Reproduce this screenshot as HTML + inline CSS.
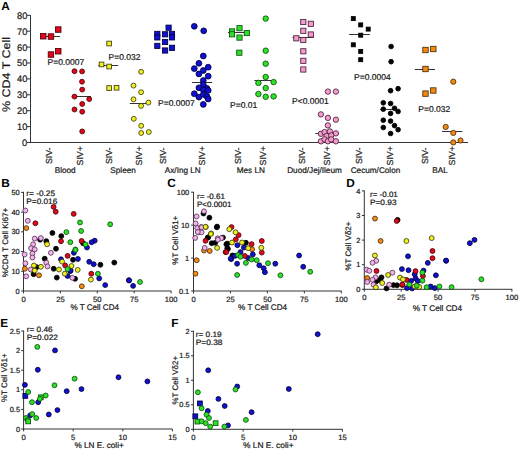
<!DOCTYPE html>
<html><head><meta charset="utf-8"><style>
html,body{margin:0;padding:0;background:#fff;}
body{width:520px;height:453px;overflow:hidden;}
svg{display:block;font-family:"Liberation Sans", sans-serif;text-rendering:geometricPrecision;}
text{stroke:#2a2a2a;stroke-width:0.22px;}
text[font-weight="bold"]{stroke:none;}
</style></head><body>
<svg width="520" height="453" viewBox="0 0 520 453">
<rect width="520" height="453" fill="#fff"/>
<text x="1.2" y="9.7" font-size="11.8" text-anchor="start" font-weight="bold" fill="#000" >A</text>
<line x1="30.5" y1="15" x2="30.5" y2="143" stroke="#333" stroke-width="1"/>
<line x1="30" y1="142.5" x2="468" y2="142.5" stroke="#333" stroke-width="1"/>
<line x1="27" y1="142.5" x2="30.5" y2="142.5" stroke="#333" stroke-width="1"/>
<text x="27.3" y="145.95" font-size="9.5" text-anchor="end" font-weight="normal" fill="#111" textLength="5.2" lengthAdjust="spacingAndGlyphs">0</text>
<line x1="27" y1="126.6" x2="30.5" y2="126.6" stroke="#333" stroke-width="1"/>
<text x="27.3" y="130.04999999999998" font-size="9.5" text-anchor="end" font-weight="normal" fill="#111" textLength="10.3" lengthAdjust="spacingAndGlyphs">10</text>
<line x1="27" y1="110.7" x2="30.5" y2="110.7" stroke="#333" stroke-width="1"/>
<text x="27.3" y="114.15" font-size="9.5" text-anchor="end" font-weight="normal" fill="#111" textLength="10.3" lengthAdjust="spacingAndGlyphs">20</text>
<line x1="27" y1="94.8" x2="30.5" y2="94.8" stroke="#333" stroke-width="1"/>
<text x="27.3" y="98.25" font-size="9.5" text-anchor="end" font-weight="normal" fill="#111" textLength="10.3" lengthAdjust="spacingAndGlyphs">30</text>
<line x1="27" y1="78.9" x2="30.5" y2="78.9" stroke="#333" stroke-width="1"/>
<text x="27.3" y="82.35000000000001" font-size="9.5" text-anchor="end" font-weight="normal" fill="#111" textLength="10.3" lengthAdjust="spacingAndGlyphs">40</text>
<line x1="27" y1="63.0" x2="30.5" y2="63.0" stroke="#333" stroke-width="1"/>
<text x="27.3" y="66.45" font-size="9.5" text-anchor="end" font-weight="normal" fill="#111" textLength="10.3" lengthAdjust="spacingAndGlyphs">50</text>
<line x1="27" y1="47.099999999999994" x2="30.5" y2="47.099999999999994" stroke="#333" stroke-width="1"/>
<text x="27.3" y="50.55" font-size="9.5" text-anchor="end" font-weight="normal" fill="#111" textLength="10.3" lengthAdjust="spacingAndGlyphs">60</text>
<line x1="27" y1="31.200000000000003" x2="30.5" y2="31.200000000000003" stroke="#333" stroke-width="1"/>
<text x="27.3" y="34.650000000000006" font-size="9.5" text-anchor="end" font-weight="normal" fill="#111" textLength="10.3" lengthAdjust="spacingAndGlyphs">70</text>
<line x1="27" y1="15.299999999999997" x2="30.5" y2="15.299999999999997" stroke="#333" stroke-width="1"/>
<text x="27.3" y="18.749999999999996" font-size="9.5" text-anchor="end" font-weight="normal" fill="#111" textLength="10.3" lengthAdjust="spacingAndGlyphs">80</text>
<text transform="translate(9.5,74.5) rotate(-90)" font-size="11" text-anchor="middle" fill="#111" textLength="75" lengthAdjust="spacingAndGlyphs">% CD4 T Cell</text>
<line x1="40" y1="36.5" x2="60" y2="36.5" stroke="#333" stroke-width="1"/>
<line x1="71.7" y1="96.5" x2="91" y2="96.5" stroke="#333" stroke-width="1"/>
<line x1="98.3" y1="65.5" x2="118.2" y2="65.5" stroke="#333" stroke-width="1"/>
<line x1="129.8" y1="103.5" x2="146.4" y2="103.5" stroke="#333" stroke-width="1"/>
<line x1="191.9" y1="82.5" x2="212.2" y2="82.5" stroke="#333" stroke-width="1"/>
<line x1="228" y1="32.5" x2="248" y2="32.5" stroke="#333" stroke-width="1"/>
<line x1="254.4" y1="80.5" x2="273.6" y2="80.5" stroke="#333" stroke-width="1"/>
<line x1="292.5" y1="37.5" x2="313.8" y2="37.5" stroke="#333" stroke-width="1"/>
<line x1="315.3" y1="133.5" x2="339" y2="133.5" stroke="#333" stroke-width="1"/>
<line x1="349.1" y1="34.5" x2="369.9" y2="34.5" stroke="#333" stroke-width="1"/>
<line x1="380.1" y1="109.5" x2="393" y2="109.5" stroke="#333" stroke-width="1"/>
<line x1="414.8" y1="69.5" x2="435" y2="69.5" stroke="#333" stroke-width="1"/>
<line x1="442.1" y1="131.5" x2="462.4" y2="131.5" stroke="#333" stroke-width="1"/>
<rect x="40.5" y="33.5" width="5.5" height="5.5" fill="#e0081a" stroke="#4a0006" stroke-width="0.85"/>
<rect x="48.2" y="33.8" width="5.5" height="5.5" fill="#e0081a" stroke="#4a0006" stroke-width="0.85"/>
<rect x="55.5" y="26.8" width="5.5" height="5.5" fill="#e0081a" stroke="#4a0006" stroke-width="0.85"/>
<rect x="48.2" y="51.8" width="5.5" height="5.5" fill="#e0081a" stroke="#4a0006" stroke-width="0.85"/>
<rect x="55.5" y="48.5" width="5.5" height="5.5" fill="#e0081a" stroke="#4a0006" stroke-width="0.85"/>
<circle cx="74.5" cy="71.2" r="2.45" fill="#e0081a" stroke="#4a0006" stroke-width="0.85"/>
<circle cx="82.1" cy="71.4" r="2.45" fill="#e0081a" stroke="#4a0006" stroke-width="0.85"/>
<circle cx="82.0" cy="81.7" r="2.45" fill="#e0081a" stroke="#4a0006" stroke-width="0.85"/>
<circle cx="82.2" cy="89.6" r="2.45" fill="#e0081a" stroke="#4a0006" stroke-width="0.85"/>
<circle cx="74.5" cy="96.6" r="2.45" fill="#e0081a" stroke="#4a0006" stroke-width="0.85"/>
<circle cx="89.2" cy="99.1" r="2.45" fill="#e0081a" stroke="#4a0006" stroke-width="0.85"/>
<circle cx="82.2" cy="104.0" r="2.45" fill="#e0081a" stroke="#4a0006" stroke-width="0.85"/>
<circle cx="74.5" cy="109.5" r="2.45" fill="#e0081a" stroke="#4a0006" stroke-width="0.85"/>
<circle cx="82.2" cy="111.7" r="2.45" fill="#e0081a" stroke="#4a0006" stroke-width="0.85"/>
<circle cx="82.2" cy="131.4" r="2.45" fill="#e0081a" stroke="#4a0006" stroke-width="0.85"/>
<rect x="106.8" y="41.2" width="4.7" height="4.7" fill="#eef024" stroke="#3c3c08" stroke-width="0.85"/>
<rect x="99.2" y="62.1" width="4.7" height="4.7" fill="#eef024" stroke="#3c3c08" stroke-width="0.85"/>
<rect x="106.8" y="64.2" width="4.7" height="4.7" fill="#eef024" stroke="#3c3c08" stroke-width="0.85"/>
<rect x="106.8" y="85.7" width="4.7" height="4.7" fill="#eef024" stroke="#3c3c08" stroke-width="0.85"/>
<rect x="114.2" y="85.4" width="4.7" height="4.7" fill="#eef024" stroke="#3c3c08" stroke-width="0.85"/>
<circle cx="141.1" cy="71.8" r="2.45" fill="#eef024" stroke="#3c3c08" stroke-width="0.85"/>
<circle cx="133.5" cy="85.6" r="2.45" fill="#eef024" stroke="#3c3c08" stroke-width="0.85"/>
<circle cx="141.1" cy="92.2" r="2.45" fill="#eef024" stroke="#3c3c08" stroke-width="0.85"/>
<circle cx="133.5" cy="99.3" r="2.45" fill="#eef024" stroke="#3c3c08" stroke-width="0.85"/>
<circle cx="141.1" cy="105.9" r="2.45" fill="#eef024" stroke="#3c3c08" stroke-width="0.85"/>
<circle cx="148.4" cy="102.6" r="2.45" fill="#eef024" stroke="#3c3c08" stroke-width="0.85"/>
<circle cx="133.8" cy="118.8" r="2.45" fill="#eef024" stroke="#3c3c08" stroke-width="0.85"/>
<circle cx="141.2" cy="125.8" r="2.45" fill="#eef024" stroke="#3c3c08" stroke-width="0.85"/>
<circle cx="141.2" cy="133.0" r="2.45" fill="#eef024" stroke="#3c3c08" stroke-width="0.85"/>
<circle cx="148.8" cy="132.0" r="2.45" fill="#eef024" stroke="#3c3c08" stroke-width="0.85"/>
<rect x="166.0" y="25.1" width="5.2" height="5.2" fill="#1010d0" stroke="#00003c" stroke-width="0.85"/>
<rect x="154.7" y="31.3" width="5.2" height="5.2" fill="#1010d0" stroke="#00003c" stroke-width="0.85"/>
<rect x="154.7" y="34.8" width="5.2" height="5.2" fill="#1010d0" stroke="#00003c" stroke-width="0.85"/>
<rect x="162.5" y="31.7" width="5.2" height="5.2" fill="#1010d0" stroke="#00003c" stroke-width="0.85"/>
<rect x="169.4" y="31.3" width="5.2" height="5.2" fill="#1010d0" stroke="#00003c" stroke-width="0.85"/>
<rect x="169.4" y="34.8" width="5.2" height="5.2" fill="#1010d0" stroke="#00003c" stroke-width="0.85"/>
<rect x="162.5" y="39.4" width="5.2" height="5.2" fill="#1010d0" stroke="#00003c" stroke-width="0.85"/>
<rect x="154.7" y="43.3" width="5.2" height="5.2" fill="#1010d0" stroke="#00003c" stroke-width="0.85"/>
<rect x="169.4" y="45.2" width="5.2" height="5.2" fill="#1010d0" stroke="#00003c" stroke-width="0.85"/>
<rect x="162.5" y="47.9" width="5.2" height="5.2" fill="#1010d0" stroke="#00003c" stroke-width="0.85"/>
<circle cx="194.3" cy="26.3" r="2.9" fill="#1010d0" stroke="#00003c" stroke-width="0.85"/>
<circle cx="203.7" cy="30.8" r="2.9" fill="#1010d0" stroke="#00003c" stroke-width="0.85"/>
<circle cx="203.3" cy="56.0" r="2.9" fill="#1010d0" stroke="#00003c" stroke-width="0.85"/>
<circle cx="198.9" cy="63.3" r="2.9" fill="#1010d0" stroke="#00003c" stroke-width="0.85"/>
<circle cx="194.3" cy="68.6" r="2.9" fill="#1010d0" stroke="#00003c" stroke-width="0.85"/>
<circle cx="208.2" cy="67.2" r="2.9" fill="#1010d0" stroke="#00003c" stroke-width="0.85"/>
<circle cx="203.3" cy="70.5" r="2.9" fill="#1010d0" stroke="#00003c" stroke-width="0.85"/>
<circle cx="198.9" cy="73.9" r="2.9" fill="#1010d0" stroke="#00003c" stroke-width="0.85"/>
<circle cx="208.2" cy="76.2" r="2.9" fill="#1010d0" stroke="#00003c" stroke-width="0.85"/>
<circle cx="203.3" cy="80.5" r="2.9" fill="#1010d0" stroke="#00003c" stroke-width="0.85"/>
<circle cx="203.3" cy="84.7" r="2.9" fill="#1010d0" stroke="#00003c" stroke-width="0.85"/>
<circle cx="198.9" cy="87.8" r="2.9" fill="#1010d0" stroke="#00003c" stroke-width="0.85"/>
<circle cx="206.9" cy="88.4" r="2.9" fill="#1010d0" stroke="#00003c" stroke-width="0.85"/>
<circle cx="203.3" cy="89.8" r="2.9" fill="#1010d0" stroke="#00003c" stroke-width="0.85"/>
<circle cx="208.2" cy="90.4" r="2.9" fill="#1010d0" stroke="#00003c" stroke-width="0.85"/>
<circle cx="194.3" cy="93.7" r="2.9" fill="#1010d0" stroke="#00003c" stroke-width="0.85"/>
<circle cx="198.9" cy="97.1" r="2.9" fill="#1010d0" stroke="#00003c" stroke-width="0.85"/>
<circle cx="203.3" cy="94.4" r="2.9" fill="#1010d0" stroke="#00003c" stroke-width="0.85"/>
<circle cx="206.9" cy="96.4" r="2.9" fill="#1010d0" stroke="#00003c" stroke-width="0.85"/>
<circle cx="208.2" cy="99.0" r="2.9" fill="#1010d0" stroke="#00003c" stroke-width="0.85"/>
<circle cx="203.3" cy="104.4" r="2.9" fill="#1010d0" stroke="#00003c" stroke-width="0.85"/>
<rect x="236.9" y="25.6" width="5.2" height="5.2" fill="#2ee02a" stroke="#0c500c" stroke-width="0.85"/>
<rect x="229.4" y="28.8" width="5.2" height="5.2" fill="#2ee02a" stroke="#0c500c" stroke-width="0.85"/>
<rect x="229.4" y="31.7" width="5.2" height="5.2" fill="#2ee02a" stroke="#0c500c" stroke-width="0.85"/>
<rect x="244.2" y="30.4" width="5.2" height="5.2" fill="#2ee02a" stroke="#0c500c" stroke-width="0.85"/>
<rect x="236.9" y="35.0" width="5.2" height="5.2" fill="#2ee02a" stroke="#0c500c" stroke-width="0.85"/>
<rect x="236.7" y="50.1" width="5.2" height="5.2" fill="#2ee02a" stroke="#0c500c" stroke-width="0.85"/>
<circle cx="265.7" cy="18.6" r="2.75" fill="#2ee02a" stroke="#0c500c" stroke-width="0.85"/>
<circle cx="265.7" cy="50.7" r="2.75" fill="#2ee02a" stroke="#0c500c" stroke-width="0.85"/>
<circle cx="265.7" cy="63.7" r="2.75" fill="#2ee02a" stroke="#0c500c" stroke-width="0.85"/>
<circle cx="265.7" cy="77.0" r="2.75" fill="#2ee02a" stroke="#0c500c" stroke-width="0.85"/>
<circle cx="258.4" cy="82.9" r="2.75" fill="#2ee02a" stroke="#0c500c" stroke-width="0.85"/>
<circle cx="273.6" cy="82.1" r="2.75" fill="#2ee02a" stroke="#0c500c" stroke-width="0.85"/>
<circle cx="265.7" cy="88.1" r="2.75" fill="#2ee02a" stroke="#0c500c" stroke-width="0.85"/>
<circle cx="258.4" cy="94.0" r="2.75" fill="#2ee02a" stroke="#0c500c" stroke-width="0.85"/>
<circle cx="265.7" cy="96.8" r="2.75" fill="#2ee02a" stroke="#0c500c" stroke-width="0.85"/>
<circle cx="273.6" cy="96.4" r="2.75" fill="#2ee02a" stroke="#0c500c" stroke-width="0.85"/>
<rect x="300.7" y="19.4" width="5.2" height="5.2" fill="#f29ccc" stroke="#4a1e3c" stroke-width="0.85"/>
<rect x="308.2" y="21.2" width="5.2" height="5.2" fill="#f29ccc" stroke="#4a1e3c" stroke-width="0.85"/>
<rect x="300.7" y="28.2" width="5.2" height="5.2" fill="#f29ccc" stroke="#4a1e3c" stroke-width="0.85"/>
<rect x="308.2" y="31.9" width="5.2" height="5.2" fill="#f29ccc" stroke="#4a1e3c" stroke-width="0.85"/>
<rect x="293.7" y="35.7" width="5.2" height="5.2" fill="#f29ccc" stroke="#4a1e3c" stroke-width="0.85"/>
<rect x="300.7" y="37.4" width="5.2" height="5.2" fill="#f29ccc" stroke="#4a1e3c" stroke-width="0.85"/>
<rect x="300.7" y="48.7" width="5.2" height="5.2" fill="#f29ccc" stroke="#4a1e3c" stroke-width="0.85"/>
<rect x="300.7" y="58.2" width="5.2" height="5.2" fill="#f29ccc" stroke="#4a1e3c" stroke-width="0.85"/>
<rect x="300.7" y="66.9" width="5.2" height="5.2" fill="#f29ccc" stroke="#4a1e3c" stroke-width="0.85"/>
<circle cx="327.9" cy="91.6" r="2.7" fill="#f29ccc" stroke="#4a1e3c" stroke-width="0.85"/>
<circle cx="335.9" cy="91.6" r="2.7" fill="#f29ccc" stroke="#4a1e3c" stroke-width="0.85"/>
<circle cx="320.9" cy="114.4" r="2.7" fill="#f29ccc" stroke="#4a1e3c" stroke-width="0.85"/>
<circle cx="327.9" cy="117.9" r="2.7" fill="#f29ccc" stroke="#4a1e3c" stroke-width="0.85"/>
<circle cx="335.9" cy="119.7" r="2.7" fill="#f29ccc" stroke="#4a1e3c" stroke-width="0.85"/>
<circle cx="327.9" cy="125.4" r="2.7" fill="#f29ccc" stroke="#4a1e3c" stroke-width="0.85"/>
<circle cx="320.9" cy="133.8" r="2.7" fill="#f29ccc" stroke="#4a1e3c" stroke-width="0.85"/>
<circle cx="324.6" cy="132.1" r="2.7" fill="#f29ccc" stroke="#4a1e3c" stroke-width="0.85"/>
<circle cx="329.9" cy="131.4" r="2.7" fill="#f29ccc" stroke="#4a1e3c" stroke-width="0.85"/>
<circle cx="335.9" cy="133.4" r="2.7" fill="#f29ccc" stroke="#4a1e3c" stroke-width="0.85"/>
<circle cx="326.6" cy="136.0" r="2.7" fill="#f29ccc" stroke="#4a1e3c" stroke-width="0.85"/>
<circle cx="331.2" cy="135.4" r="2.7" fill="#f29ccc" stroke="#4a1e3c" stroke-width="0.85"/>
<circle cx="320.9" cy="141.3" r="2.7" fill="#f29ccc" stroke="#4a1e3c" stroke-width="0.85"/>
<circle cx="324.6" cy="139.4" r="2.7" fill="#f29ccc" stroke="#4a1e3c" stroke-width="0.85"/>
<circle cx="327.9" cy="141.3" r="2.7" fill="#f29ccc" stroke="#4a1e3c" stroke-width="0.85"/>
<circle cx="331.2" cy="139.4" r="2.7" fill="#f29ccc" stroke="#4a1e3c" stroke-width="0.85"/>
<circle cx="335.9" cy="141.3" r="2.7" fill="#f29ccc" stroke="#4a1e3c" stroke-width="0.85"/>
<rect x="351.3" y="16.6" width="4.0" height="4.0" fill="#030303" stroke="#000000" stroke-width="0.85"/>
<rect x="358.7" y="22.9" width="4.0" height="4.0" fill="#030303" stroke="#000000" stroke-width="0.85"/>
<rect x="366.2" y="27.1" width="4.0" height="4.0" fill="#030303" stroke="#000000" stroke-width="0.85"/>
<rect x="358.7" y="33.2" width="4.0" height="4.0" fill="#030303" stroke="#000000" stroke-width="0.85"/>
<rect x="351.3" y="42.8" width="4.0" height="4.0" fill="#030303" stroke="#000000" stroke-width="0.85"/>
<rect x="358.7" y="49.4" width="4.0" height="4.0" fill="#030303" stroke="#000000" stroke-width="0.85"/>
<rect x="358.7" y="57.7" width="4.0" height="4.0" fill="#030303" stroke="#000000" stroke-width="0.85"/>
<circle cx="391.1" cy="46.5" r="2.35" fill="#030303" stroke="#000000" stroke-width="0.85"/>
<circle cx="391.1" cy="61.7" r="2.35" fill="#030303" stroke="#000000" stroke-width="0.85"/>
<circle cx="390.6" cy="90.7" r="2.35" fill="#030303" stroke="#000000" stroke-width="0.85"/>
<circle cx="398.1" cy="88.7" r="2.35" fill="#030303" stroke="#000000" stroke-width="0.85"/>
<circle cx="383.3" cy="102.8" r="2.35" fill="#030303" stroke="#000000" stroke-width="0.85"/>
<circle cx="390.6" cy="103.5" r="2.35" fill="#030303" stroke="#000000" stroke-width="0.85"/>
<circle cx="383.3" cy="109.2" r="2.35" fill="#030303" stroke="#000000" stroke-width="0.85"/>
<circle cx="394.5" cy="108.3" r="2.35" fill="#030303" stroke="#000000" stroke-width="0.85"/>
<circle cx="398.1" cy="111.5" r="2.35" fill="#030303" stroke="#000000" stroke-width="0.85"/>
<circle cx="390.6" cy="113.4" r="2.35" fill="#030303" stroke="#000000" stroke-width="0.85"/>
<circle cx="383.3" cy="120.2" r="2.35" fill="#030303" stroke="#000000" stroke-width="0.85"/>
<circle cx="390.6" cy="121.1" r="2.35" fill="#030303" stroke="#000000" stroke-width="0.85"/>
<circle cx="394.5" cy="125.6" r="2.35" fill="#030303" stroke="#000000" stroke-width="0.85"/>
<circle cx="398.1" cy="129.7" r="2.35" fill="#030303" stroke="#000000" stroke-width="0.85"/>
<circle cx="383.3" cy="127.5" r="2.35" fill="#030303" stroke="#000000" stroke-width="0.85"/>
<circle cx="390.6" cy="133.5" r="2.35" fill="#030303" stroke="#000000" stroke-width="0.85"/>
<rect x="422.8" y="47.3" width="5.4" height="5.4" fill="#f28a14" stroke="#4a2c08" stroke-width="0.85"/>
<rect x="430.6" y="46.3" width="5.4" height="5.4" fill="#f28a14" stroke="#4a2c08" stroke-width="0.85"/>
<rect x="422.8" y="66.3" width="5.4" height="5.4" fill="#f28a14" stroke="#4a2c08" stroke-width="0.85"/>
<rect x="422.8" y="90.9" width="5.4" height="5.4" fill="#f28a14" stroke="#4a2c08" stroke-width="0.85"/>
<rect x="430.6" y="87.8" width="5.4" height="5.4" fill="#f28a14" stroke="#4a2c08" stroke-width="0.85"/>
<circle cx="453.3" cy="81.7" r="2.6" fill="#f28a14" stroke="#4a2c08" stroke-width="0.85"/>
<circle cx="445.7" cy="126.9" r="2.6" fill="#f28a14" stroke="#4a2c08" stroke-width="0.85"/>
<circle cx="453.3" cy="132.9" r="2.6" fill="#f28a14" stroke="#4a2c08" stroke-width="0.85"/>
<circle cx="453.3" cy="142.4" r="2.6" fill="#f28a14" stroke="#4a2c08" stroke-width="0.85"/>
<circle cx="460.5" cy="140.5" r="2.6" fill="#f28a14" stroke="#4a2c08" stroke-width="0.85"/>
<text x="47.5" y="65.2" font-size="8.5" text-anchor="start" font-weight="normal" fill="#111" >P=0.0007</text>
<text x="108.6" y="59.9" font-size="8.5" text-anchor="start" font-weight="normal" fill="#111" >P=0.032</text>
<text x="158" y="105.6" font-size="8.5" text-anchor="start" font-weight="normal" fill="#111" >P=0.0007</text>
<text x="230" y="107.6" font-size="8.5" text-anchor="start" font-weight="normal" fill="#111" >P=0.01</text>
<text x="292" y="104.4" font-size="8.5" text-anchor="start" font-weight="normal" fill="#111" >P&lt;0.0001</text>
<text x="354.1" y="79.8" font-size="8.5" text-anchor="start" font-weight="normal" fill="#111" >P=0.0004</text>
<text x="418.3" y="111.7" font-size="8.5" text-anchor="start" font-weight="normal" fill="#111" >P=0.032</text>
<text transform="translate(52.4,155.8) rotate(-90)" font-size="8.8" text-anchor="middle" fill="#111">SIV-</text>
<text transform="translate(82.9,155.8) rotate(-90)" font-size="8.8" text-anchor="middle" fill="#111">SIV+</text>
<text transform="translate(111.7,155.8) rotate(-90)" font-size="8.8" text-anchor="middle" fill="#111">SIV-</text>
<text transform="translate(141.7,155.8) rotate(-90)" font-size="8.8" text-anchor="middle" fill="#111">SIV+</text>
<text transform="translate(166.0,155.8) rotate(-90)" font-size="8.8" text-anchor="middle" fill="#111">SIV-</text>
<text transform="translate(205.1,155.8) rotate(-90)" font-size="8.8" text-anchor="middle" fill="#111">SIV+</text>
<text transform="translate(241.2,155.8) rotate(-90)" font-size="8.8" text-anchor="middle" fill="#111">SIV-</text>
<text transform="translate(266.0,155.8) rotate(-90)" font-size="8.8" text-anchor="middle" fill="#111">SIV+</text>
<text transform="translate(304.7,155.8) rotate(-90)" font-size="8.8" text-anchor="middle" fill="#111">SIV-</text>
<text transform="translate(330.1,155.8) rotate(-90)" font-size="8.8" text-anchor="middle" fill="#111">SIV+</text>
<text transform="translate(362.1,155.8) rotate(-90)" font-size="8.8" text-anchor="middle" fill="#111">SIV-</text>
<text transform="translate(392.7,155.8) rotate(-90)" font-size="8.8" text-anchor="middle" fill="#111">SIV+</text>
<text transform="translate(427.6,155.8) rotate(-90)" font-size="8.8" text-anchor="middle" fill="#111">SIV-</text>
<text transform="translate(455.0,155.8) rotate(-90)" font-size="8.8" text-anchor="middle" fill="#111">SIV+</text>
<text x="65.2" y="173.2" font-size="8.2" text-anchor="middle" font-weight="normal" fill="#111" >Blood</text>
<text x="123.1" y="173.2" font-size="8.2" text-anchor="middle" font-weight="normal" fill="#111" >Spleen</text>
<text x="182.8" y="173.2" font-size="8.2" text-anchor="middle" font-weight="normal" fill="#111" >Ax/Ing LN</text>
<text x="250.8" y="173.2" font-size="8.2" text-anchor="middle" font-weight="normal" fill="#111" >Mes LN</text>
<text x="314.5" y="173.2" font-size="8.2" text-anchor="middle" font-weight="normal" fill="#111" >Duod/Jej/Ileum</text>
<text x="375.5" y="173.2" font-size="8.2" text-anchor="middle" font-weight="normal" fill="#111" >Cecum/Colon</text>
<text x="440" y="173.2" font-size="8.2" text-anchor="middle" font-weight="normal" fill="#111" >BAL</text>
<text x="1.2" y="187.2" font-size="11.8" text-anchor="start" font-weight="bold" fill="#000" >B</text>
<line x1="23.5" y1="191.8" x2="23.5" y2="291.5" stroke="#333" stroke-width="1"/>
<line x1="23.0" y1="291.0" x2="171.2" y2="291.0" stroke="#333" stroke-width="1"/>
<line x1="21.1" y1="291.0" x2="23.5" y2="291.0" stroke="#333" stroke-width="1"/>
<text x="19.7" y="293.6" font-size="7.4" text-anchor="end" font-weight="normal" fill="#111" >0</text>
<line x1="21.1" y1="271.28" x2="23.5" y2="271.28" stroke="#333" stroke-width="1"/>
<text x="19.7" y="273.88" font-size="7.4" text-anchor="end" font-weight="normal" fill="#111" >10</text>
<line x1="21.1" y1="251.56" x2="23.5" y2="251.56" stroke="#333" stroke-width="1"/>
<text x="19.7" y="254.16" font-size="7.4" text-anchor="end" font-weight="normal" fill="#111" >20</text>
<line x1="21.1" y1="231.84" x2="23.5" y2="231.84" stroke="#333" stroke-width="1"/>
<text x="19.7" y="234.44" font-size="7.4" text-anchor="end" font-weight="normal" fill="#111" >30</text>
<line x1="21.1" y1="212.12" x2="23.5" y2="212.12" stroke="#333" stroke-width="1"/>
<text x="19.7" y="214.72" font-size="7.4" text-anchor="end" font-weight="normal" fill="#111" >40</text>
<line x1="21.1" y1="192.4" x2="23.5" y2="192.4" stroke="#333" stroke-width="1"/>
<text x="19.7" y="195.0" font-size="7.4" text-anchor="end" font-weight="normal" fill="#111" >50</text>
<line x1="23.5" y1="291.0" x2="23.5" y2="293.4" stroke="#333" stroke-width="1"/>
<text x="23.5" y="301.9" font-size="7.6" text-anchor="middle" font-weight="normal" fill="#111" >0</text>
<line x1="60.4" y1="291.0" x2="60.4" y2="293.4" stroke="#333" stroke-width="1"/>
<text x="60.4" y="301.9" font-size="7.6" text-anchor="middle" font-weight="normal" fill="#111" >25</text>
<line x1="97.3" y1="291.0" x2="97.3" y2="293.4" stroke="#333" stroke-width="1"/>
<text x="97.3" y="301.9" font-size="7.6" text-anchor="middle" font-weight="normal" fill="#111" >50</text>
<line x1="134.2" y1="291.0" x2="134.2" y2="293.4" stroke="#333" stroke-width="1"/>
<text x="134.2" y="301.9" font-size="7.6" text-anchor="middle" font-weight="normal" fill="#111" >75</text>
<line x1="171.1" y1="291.0" x2="171.1" y2="293.4" stroke="#333" stroke-width="1"/>
<text x="171.1" y="301.9" font-size="7.6" text-anchor="middle" font-weight="normal" fill="#111" >100</text>
<text x="70.4" y="310.2" font-size="8.2" fill="#111" textLength="48.6" lengthAdjust="spacingAndGlyphs">% T Cell CD4</text>
<text transform="translate(7.6,242.5) rotate(-90)" font-size="8.0" text-anchor="middle" fill="#111" textLength="69.5" lengthAdjust="spacingAndGlyphs">%CD4 T Cell Ki67+</text>
<text x="26.3" y="196.2" font-size="7.9" fill="#111" textLength="28.8" lengthAdjust="spacingAndGlyphs">r= -0.25</text>
<text x="26.3" y="203.9" font-size="7.9" fill="#111" textLength="31.0" lengthAdjust="spacingAndGlyphs">P=0.016</text>
<circle cx="52.4" cy="233.0" r="2.45" fill="#030303" stroke="#000000" stroke-width="0.85"/>
<circle cx="61.3" cy="236.1" r="2.45" fill="#030303" stroke="#000000" stroke-width="0.85"/>
<circle cx="40.1" cy="239.7" r="2.45" fill="#030303" stroke="#000000" stroke-width="0.85"/>
<circle cx="46.3" cy="241.2" r="2.45" fill="#030303" stroke="#000000" stroke-width="0.85"/>
<circle cx="83.1" cy="243.3" r="2.45" fill="#030303" stroke="#000000" stroke-width="0.85"/>
<circle cx="56.0" cy="248.7" r="2.45" fill="#030303" stroke="#000000" stroke-width="0.85"/>
<circle cx="44.7" cy="258.7" r="2.45" fill="#030303" stroke="#000000" stroke-width="0.85"/>
<circle cx="73.0" cy="259.8" r="2.45" fill="#030303" stroke="#000000" stroke-width="0.85"/>
<circle cx="100.4" cy="264.8" r="2.45" fill="#030303" stroke="#000000" stroke-width="0.85"/>
<circle cx="114.3" cy="262.6" r="2.45" fill="#030303" stroke="#000000" stroke-width="0.85"/>
<circle cx="36.7" cy="267.1" r="2.45" fill="#030303" stroke="#000000" stroke-width="0.85"/>
<circle cx="53.7" cy="268.8" r="2.45" fill="#030303" stroke="#000000" stroke-width="0.85"/>
<circle cx="33.6" cy="274.2" r="2.45" fill="#030303" stroke="#000000" stroke-width="0.85"/>
<circle cx="56.8" cy="277.6" r="2.45" fill="#030303" stroke="#000000" stroke-width="0.85"/>
<circle cx="75.1" cy="278.8" r="2.45" fill="#030303" stroke="#000000" stroke-width="0.85"/>
<circle cx="26.3" cy="228.1" r="2.45" fill="#f28a14" stroke="#4a2c08" stroke-width="0.85"/>
<circle cx="24.9" cy="268.8" r="2.45" fill="#f28a14" stroke="#4a2c08" stroke-width="0.85"/>
<circle cx="39.0" cy="275.3" r="2.45" fill="#f28a14" stroke="#4a2c08" stroke-width="0.85"/>
<circle cx="81.8" cy="286.3" r="2.45" fill="#f28a14" stroke="#4a2c08" stroke-width="0.85"/>
<circle cx="25.3" cy="210.5" r="2.45" fill="#f0b4e6" stroke="#5a305e" stroke-width="0.85"/>
<circle cx="27.8" cy="220.8" r="2.45" fill="#f0b4e6" stroke="#5a305e" stroke-width="0.85"/>
<circle cx="34.7" cy="238.6" r="2.45" fill="#f0b4e6" stroke="#5a305e" stroke-width="0.85"/>
<circle cx="40.9" cy="238.1" r="2.45" fill="#f0b4e6" stroke="#5a305e" stroke-width="0.85"/>
<circle cx="33.1" cy="244.3" r="2.45" fill="#f0b4e6" stroke="#5a305e" stroke-width="0.85"/>
<circle cx="31.1" cy="248.2" r="2.45" fill="#f0b4e6" stroke="#5a305e" stroke-width="0.85"/>
<circle cx="34.7" cy="249.4" r="2.45" fill="#f0b4e6" stroke="#5a305e" stroke-width="0.85"/>
<circle cx="50.9" cy="252.8" r="2.45" fill="#f0b4e6" stroke="#5a305e" stroke-width="0.85"/>
<circle cx="24.6" cy="254.4" r="2.45" fill="#f0b4e6" stroke="#5a305e" stroke-width="0.85"/>
<circle cx="32.4" cy="253.6" r="2.45" fill="#f0b4e6" stroke="#5a305e" stroke-width="0.85"/>
<circle cx="32.4" cy="257.5" r="2.45" fill="#f0b4e6" stroke="#5a305e" stroke-width="0.85"/>
<circle cx="25.4" cy="263.3" r="2.45" fill="#f0b4e6" stroke="#5a305e" stroke-width="0.85"/>
<circle cx="46.3" cy="262.6" r="2.45" fill="#f0b4e6" stroke="#5a305e" stroke-width="0.85"/>
<circle cx="47.5" cy="266.4" r="2.45" fill="#f0b4e6" stroke="#5a305e" stroke-width="0.85"/>
<circle cx="30.8" cy="269.5" r="2.45" fill="#f0b4e6" stroke="#5a305e" stroke-width="0.85"/>
<circle cx="26.2" cy="276.3" r="2.45" fill="#f0b4e6" stroke="#5a305e" stroke-width="0.85"/>
<circle cx="72.4" cy="277.8" r="2.45" fill="#f0b4e6" stroke="#5a305e" stroke-width="0.85"/>
<circle cx="94.7" cy="240.7" r="2.45" fill="#1010d0" stroke="#00003c" stroke-width="0.85"/>
<circle cx="91.6" cy="242.3" r="2.45" fill="#1010d0" stroke="#00003c" stroke-width="0.85"/>
<circle cx="87.0" cy="247.5" r="2.45" fill="#1010d0" stroke="#00003c" stroke-width="0.85"/>
<circle cx="73.9" cy="252.8" r="2.45" fill="#1010d0" stroke="#00003c" stroke-width="0.85"/>
<circle cx="77.9" cy="259.0" r="2.45" fill="#1010d0" stroke="#00003c" stroke-width="0.85"/>
<circle cx="61.0" cy="259.3" r="2.45" fill="#1010d0" stroke="#00003c" stroke-width="0.85"/>
<circle cx="89.2" cy="261.8" r="2.45" fill="#1010d0" stroke="#00003c" stroke-width="0.85"/>
<circle cx="93.7" cy="264.2" r="2.45" fill="#1010d0" stroke="#00003c" stroke-width="0.85"/>
<circle cx="70.3" cy="271.1" r="2.45" fill="#1010d0" stroke="#00003c" stroke-width="0.85"/>
<circle cx="70.6" cy="270.5" r="2.45" fill="#1010d0" stroke="#00003c" stroke-width="0.85"/>
<circle cx="67.6" cy="276.0" r="2.45" fill="#1010d0" stroke="#00003c" stroke-width="0.85"/>
<circle cx="99.2" cy="278.4" r="2.45" fill="#1010d0" stroke="#00003c" stroke-width="0.85"/>
<circle cx="105.2" cy="285.1" r="2.45" fill="#1010d0" stroke="#00003c" stroke-width="0.85"/>
<circle cx="128.9" cy="280.2" r="2.45" fill="#1010d0" stroke="#00003c" stroke-width="0.85"/>
<circle cx="129.1" cy="280.5" r="2.45" fill="#1010d0" stroke="#00003c" stroke-width="0.85"/>
<circle cx="133.1" cy="285.9" r="2.45" fill="#1010d0" stroke="#00003c" stroke-width="0.85"/>
<circle cx="35.4" cy="223.3" r="2.45" fill="#e0081a" stroke="#4a0006" stroke-width="0.85"/>
<circle cx="53.6" cy="206.9" r="2.45" fill="#e0081a" stroke="#4a0006" stroke-width="0.85"/>
<circle cx="55.7" cy="211.7" r="2.45" fill="#e0081a" stroke="#4a0006" stroke-width="0.85"/>
<circle cx="73.7" cy="213.9" r="2.45" fill="#e0081a" stroke="#4a0006" stroke-width="0.85"/>
<circle cx="61.0" cy="241.2" r="2.45" fill="#e0081a" stroke="#4a0006" stroke-width="0.85"/>
<circle cx="81.6" cy="241.0" r="2.45" fill="#e0081a" stroke="#4a0006" stroke-width="0.85"/>
<circle cx="67.6" cy="255.9" r="2.45" fill="#e0081a" stroke="#4a0006" stroke-width="0.85"/>
<circle cx="65.2" cy="265.5" r="2.45" fill="#e0081a" stroke="#4a0006" stroke-width="0.85"/>
<circle cx="91.3" cy="273.8" r="2.45" fill="#e0081a" stroke="#4a0006" stroke-width="0.85"/>
<circle cx="47.1" cy="244.3" r="2.45" fill="#eef024" stroke="#3c3c08" stroke-width="0.85"/>
<circle cx="62.1" cy="261.6" r="2.45" fill="#eef024" stroke="#3c3c08" stroke-width="0.85"/>
<circle cx="33.9" cy="265.5" r="2.45" fill="#eef024" stroke="#3c3c08" stroke-width="0.85"/>
<circle cx="40.9" cy="266.8" r="2.45" fill="#eef024" stroke="#3c3c08" stroke-width="0.85"/>
<circle cx="71.5" cy="266.0" r="2.45" fill="#eef024" stroke="#3c3c08" stroke-width="0.85"/>
<circle cx="34.7" cy="270.6" r="2.45" fill="#eef024" stroke="#3c3c08" stroke-width="0.85"/>
<circle cx="59.0" cy="269.5" r="2.45" fill="#eef024" stroke="#3c3c08" stroke-width="0.85"/>
<circle cx="77.7" cy="269.9" r="2.45" fill="#eef024" stroke="#3c3c08" stroke-width="0.85"/>
<circle cx="64.8" cy="273.7" r="2.45" fill="#eef024" stroke="#3c3c08" stroke-width="0.85"/>
<circle cx="90.9" cy="279.6" r="2.45" fill="#eef024" stroke="#3c3c08" stroke-width="0.85"/>
<circle cx="66.4" cy="232.1" r="2.45" fill="#2ee02a" stroke="#0c500c" stroke-width="0.85"/>
<circle cx="80.0" cy="222.5" r="2.45" fill="#2ee02a" stroke="#0c500c" stroke-width="0.85"/>
<circle cx="110.2" cy="224.3" r="2.45" fill="#2ee02a" stroke="#0c500c" stroke-width="0.85"/>
<circle cx="81.1" cy="231.0" r="2.45" fill="#2ee02a" stroke="#0c500c" stroke-width="0.85"/>
<circle cx="70.3" cy="242.2" r="2.45" fill="#2ee02a" stroke="#0c500c" stroke-width="0.85"/>
<circle cx="85.5" cy="244.4" r="2.45" fill="#2ee02a" stroke="#0c500c" stroke-width="0.85"/>
<circle cx="75.4" cy="249.5" r="2.45" fill="#2ee02a" stroke="#0c500c" stroke-width="0.85"/>
<circle cx="75.5" cy="249.9" r="2.45" fill="#2ee02a" stroke="#0c500c" stroke-width="0.85"/>
<circle cx="67.6" cy="269.1" r="2.45" fill="#2ee02a" stroke="#0c500c" stroke-width="0.85"/>
<circle cx="97.9" cy="273.8" r="2.45" fill="#2ee02a" stroke="#0c500c" stroke-width="0.85"/>
<circle cx="140.0" cy="282.0" r="2.45" fill="#2ee02a" stroke="#0c500c" stroke-width="0.85"/>
<text x="167.2" y="186.8" font-size="11.8" text-anchor="start" font-weight="bold" fill="#000" >C</text>
<line x1="193.5" y1="191.8" x2="193.5" y2="291.5" stroke="#333" stroke-width="1"/>
<line x1="193.0" y1="291.0" x2="341.6" y2="291.0" stroke="#333" stroke-width="1"/>
<line x1="191.1" y1="291.0" x2="193.5" y2="291.0" stroke="#333" stroke-width="1"/>
<text x="189.2" y="293.6" font-size="7.4" text-anchor="end" font-weight="normal" fill="#111" >0.1</text>
<line x1="191.1" y1="258.07" x2="193.5" y2="258.07" stroke="#333" stroke-width="1"/>
<text x="189.2" y="260.67" font-size="7.4" text-anchor="end" font-weight="normal" fill="#111" >1</text>
<line x1="191.1" y1="225.14" x2="193.5" y2="225.14" stroke="#333" stroke-width="1"/>
<text x="189.2" y="227.73999999999998" font-size="7.4" text-anchor="end" font-weight="normal" fill="#111" >10</text>
<line x1="191.1" y1="192.21" x2="193.5" y2="192.21" stroke="#333" stroke-width="1"/>
<text x="189.2" y="194.81" font-size="7.4" text-anchor="end" font-weight="normal" fill="#111" >100</text>
<line x1="193.5" y1="291.0" x2="193.5" y2="293.4" stroke="#333" stroke-width="1"/>
<text x="193.5" y="301.9" font-size="7.6" text-anchor="middle" font-weight="normal" fill="#111" >0</text>
<line x1="230.45" y1="291.0" x2="230.45" y2="293.4" stroke="#333" stroke-width="1"/>
<text x="230.45" y="301.9" font-size="7.6" text-anchor="middle" font-weight="normal" fill="#111" >25</text>
<line x1="267.4" y1="291.0" x2="267.4" y2="293.4" stroke="#333" stroke-width="1"/>
<text x="267.4" y="301.9" font-size="7.6" text-anchor="middle" font-weight="normal" fill="#111" >50</text>
<line x1="304.35" y1="291.0" x2="304.35" y2="293.4" stroke="#333" stroke-width="1"/>
<text x="304.35" y="301.9" font-size="7.6" text-anchor="middle" font-weight="normal" fill="#111" >75</text>
<line x1="341.3" y1="291.0" x2="341.3" y2="293.4" stroke="#333" stroke-width="1"/>
<text x="341.3" y="301.9" font-size="7.6" text-anchor="middle" font-weight="normal" fill="#111" >100</text>
<text x="238.1" y="310.2" font-size="8.2" fill="#111" textLength="49" lengthAdjust="spacingAndGlyphs">% T Cell CD4</text>
<text transform="translate(178.1,240.2) rotate(-90)" font-size="8.0" text-anchor="middle" fill="#111" textLength="49" lengthAdjust="spacingAndGlyphs">%T Cell V&#948;1+</text>
<text x="197.0" y="198.7" font-size="7.8" fill="#111" textLength="28.0" lengthAdjust="spacingAndGlyphs">r= -0.61</text>
<text x="197.0" y="207.3" font-size="7.8" fill="#111" textLength="34.4" lengthAdjust="spacingAndGlyphs">P&lt;0.0001</text>
<circle cx="203.5" cy="213.5" r="2.45" fill="#030303" stroke="#000000" stroke-width="0.85"/>
<circle cx="209.4" cy="217.7" r="2.45" fill="#030303" stroke="#000000" stroke-width="0.85"/>
<circle cx="217.1" cy="226.6" r="2.45" fill="#030303" stroke="#000000" stroke-width="0.85"/>
<circle cx="207.8" cy="237.6" r="2.45" fill="#030303" stroke="#000000" stroke-width="0.85"/>
<circle cx="223.0" cy="237.6" r="2.45" fill="#030303" stroke="#000000" stroke-width="0.85"/>
<circle cx="216.8" cy="227.3" r="2.45" fill="#030303" stroke="#000000" stroke-width="0.85"/>
<circle cx="208.1" cy="237.4" r="2.45" fill="#030303" stroke="#000000" stroke-width="0.85"/>
<circle cx="211.7" cy="243.2" r="2.45" fill="#030303" stroke="#000000" stroke-width="0.85"/>
<circle cx="215.3" cy="242.8" r="2.45" fill="#030303" stroke="#000000" stroke-width="0.85"/>
<circle cx="226.4" cy="244.3" r="2.45" fill="#030303" stroke="#000000" stroke-width="0.85"/>
<circle cx="227.9" cy="249.0" r="2.45" fill="#030303" stroke="#000000" stroke-width="0.85"/>
<circle cx="227.3" cy="243.6" r="2.45" fill="#030303" stroke="#000000" stroke-width="0.85"/>
<circle cx="245.9" cy="242.8" r="2.45" fill="#030303" stroke="#000000" stroke-width="0.85"/>
<circle cx="227.3" cy="248.2" r="2.45" fill="#030303" stroke="#000000" stroke-width="0.85"/>
<circle cx="232.4" cy="255.5" r="2.45" fill="#030303" stroke="#000000" stroke-width="0.85"/>
<circle cx="204.0" cy="250.5" r="2.45" fill="#f28a14" stroke="#4a2c08" stroke-width="0.85"/>
<circle cx="209.7" cy="251.0" r="2.45" fill="#f28a14" stroke="#4a2c08" stroke-width="0.85"/>
<circle cx="196.7" cy="260.3" r="2.45" fill="#f28a14" stroke="#4a2c08" stroke-width="0.85"/>
<circle cx="195.5" cy="273.7" r="2.45" fill="#f28a14" stroke="#4a2c08" stroke-width="0.85"/>
<circle cx="252.1" cy="249.3" r="2.45" fill="#f28a14" stroke="#4a2c08" stroke-width="0.85"/>
<circle cx="204.0" cy="211.3" r="2.45" fill="#f0b4e6" stroke="#5a305e" stroke-width="0.85"/>
<circle cx="196.6" cy="216.4" r="2.45" fill="#f0b4e6" stroke="#5a305e" stroke-width="0.85"/>
<circle cx="195.6" cy="223.4" r="2.45" fill="#f0b4e6" stroke="#5a305e" stroke-width="0.85"/>
<circle cx="197.2" cy="228.0" r="2.45" fill="#f0b4e6" stroke="#5a305e" stroke-width="0.85"/>
<circle cx="201.2" cy="227.0" r="2.45" fill="#f0b4e6" stroke="#5a305e" stroke-width="0.85"/>
<circle cx="198.5" cy="232.3" r="2.45" fill="#f0b4e6" stroke="#5a305e" stroke-width="0.85"/>
<circle cx="201.5" cy="232.3" r="2.45" fill="#f0b4e6" stroke="#5a305e" stroke-width="0.85"/>
<circle cx="195.2" cy="237.9" r="2.45" fill="#f0b4e6" stroke="#5a305e" stroke-width="0.85"/>
<circle cx="217.7" cy="238.3" r="2.45" fill="#f0b4e6" stroke="#5a305e" stroke-width="0.85"/>
<circle cx="221.4" cy="238.1" r="2.45" fill="#f0b4e6" stroke="#5a305e" stroke-width="0.85"/>
<circle cx="197.8" cy="232.0" r="2.45" fill="#f0b4e6" stroke="#5a305e" stroke-width="0.85"/>
<circle cx="201.6" cy="227.3" r="2.45" fill="#f0b4e6" stroke="#5a305e" stroke-width="0.85"/>
<circle cx="217.9" cy="239.7" r="2.45" fill="#f0b4e6" stroke="#5a305e" stroke-width="0.85"/>
<circle cx="204.7" cy="247.9" r="2.45" fill="#f0b4e6" stroke="#5a305e" stroke-width="0.85"/>
<circle cx="237.4" cy="245.2" r="2.45" fill="#1010d0" stroke="#00003c" stroke-width="0.85"/>
<circle cx="243.9" cy="247.5" r="2.45" fill="#1010d0" stroke="#00003c" stroke-width="0.85"/>
<circle cx="240.5" cy="252.1" r="2.45" fill="#1010d0" stroke="#00003c" stroke-width="0.85"/>
<circle cx="234.9" cy="255.9" r="2.45" fill="#1010d0" stroke="#00003c" stroke-width="0.85"/>
<circle cx="252.8" cy="254.4" r="2.45" fill="#1010d0" stroke="#00003c" stroke-width="0.85"/>
<circle cx="231.2" cy="259.1" r="2.45" fill="#1010d0" stroke="#00003c" stroke-width="0.85"/>
<circle cx="230.7" cy="258.7" r="2.45" fill="#1010d0" stroke="#00003c" stroke-width="0.85"/>
<circle cx="248.2" cy="258.0" r="2.45" fill="#1010d0" stroke="#00003c" stroke-width="0.85"/>
<circle cx="237.1" cy="263.7" r="2.45" fill="#1010d0" stroke="#00003c" stroke-width="0.85"/>
<circle cx="259.3" cy="265.3" r="2.45" fill="#1010d0" stroke="#00003c" stroke-width="0.85"/>
<circle cx="275.3" cy="263.7" r="2.45" fill="#1010d0" stroke="#00003c" stroke-width="0.85"/>
<circle cx="263.7" cy="268.3" r="2.45" fill="#1010d0" stroke="#00003c" stroke-width="0.85"/>
<circle cx="264.9" cy="272.2" r="2.45" fill="#1010d0" stroke="#00003c" stroke-width="0.85"/>
<circle cx="299.1" cy="255.5" r="2.45" fill="#1010d0" stroke="#00003c" stroke-width="0.85"/>
<circle cx="303.2" cy="266.8" r="2.45" fill="#1010d0" stroke="#00003c" stroke-width="0.85"/>
<circle cx="205.5" cy="240.8" r="2.45" fill="#e0081a" stroke="#4a0006" stroke-width="0.85"/>
<circle cx="225.6" cy="252.1" r="2.45" fill="#e0081a" stroke="#4a0006" stroke-width="0.85"/>
<circle cx="231.5" cy="227.1" r="2.45" fill="#e0081a" stroke="#4a0006" stroke-width="0.85"/>
<circle cx="238.6" cy="235.1" r="2.45" fill="#e0081a" stroke="#4a0006" stroke-width="0.85"/>
<circle cx="235.8" cy="239.4" r="2.45" fill="#e0081a" stroke="#4a0006" stroke-width="0.85"/>
<circle cx="251.6" cy="244.1" r="2.45" fill="#e0081a" stroke="#4a0006" stroke-width="0.85"/>
<circle cx="261.8" cy="241.0" r="2.45" fill="#e0081a" stroke="#4a0006" stroke-width="0.85"/>
<circle cx="261.8" cy="252.6" r="2.45" fill="#e0081a" stroke="#4a0006" stroke-width="0.85"/>
<circle cx="226.2" cy="252.1" r="2.45" fill="#e0081a" stroke="#4a0006" stroke-width="0.85"/>
<circle cx="244.8" cy="256.0" r="2.45" fill="#e0081a" stroke="#4a0006" stroke-width="0.85"/>
<circle cx="205.8" cy="227.0" r="2.45" fill="#eef024" stroke="#3c3c08" stroke-width="0.85"/>
<circle cx="211.1" cy="233.4" r="2.45" fill="#eef024" stroke="#3c3c08" stroke-width="0.85"/>
<circle cx="205.5" cy="226.9" r="2.45" fill="#eef024" stroke="#3c3c08" stroke-width="0.85"/>
<circle cx="210.9" cy="234.0" r="2.45" fill="#eef024" stroke="#3c3c08" stroke-width="0.85"/>
<circle cx="217.1" cy="247.9" r="2.45" fill="#eef024" stroke="#3c3c08" stroke-width="0.85"/>
<circle cx="229.3" cy="229.2" r="2.45" fill="#eef024" stroke="#3c3c08" stroke-width="0.85"/>
<circle cx="235.5" cy="232.3" r="2.45" fill="#eef024" stroke="#3c3c08" stroke-width="0.85"/>
<circle cx="232.0" cy="242.5" r="2.45" fill="#eef024" stroke="#3c3c08" stroke-width="0.85"/>
<circle cx="242.0" cy="242.5" r="2.45" fill="#eef024" stroke="#3c3c08" stroke-width="0.85"/>
<circle cx="248.2" cy="248.2" r="2.45" fill="#eef024" stroke="#3c3c08" stroke-width="0.85"/>
<circle cx="261.3" cy="247.8" r="2.45" fill="#eef024" stroke="#3c3c08" stroke-width="0.85"/>
<circle cx="238.1" cy="254.9" r="2.45" fill="#2ee02a" stroke="#0c500c" stroke-width="0.85"/>
<circle cx="240.5" cy="256.8" r="2.45" fill="#2ee02a" stroke="#0c500c" stroke-width="0.85"/>
<circle cx="251.6" cy="259.5" r="2.45" fill="#2ee02a" stroke="#0c500c" stroke-width="0.85"/>
<circle cx="256.7" cy="260.2" r="2.45" fill="#2ee02a" stroke="#0c500c" stroke-width="0.85"/>
<circle cx="245.9" cy="262.9" r="2.45" fill="#2ee02a" stroke="#0c500c" stroke-width="0.85"/>
<circle cx="268.0" cy="263.2" r="2.45" fill="#2ee02a" stroke="#0c500c" stroke-width="0.85"/>
<circle cx="237.1" cy="275.0" r="2.45" fill="#2ee02a" stroke="#0c500c" stroke-width="0.85"/>
<circle cx="280.4" cy="275.3" r="2.45" fill="#2ee02a" stroke="#0c500c" stroke-width="0.85"/>
<circle cx="310.2" cy="271.8" r="2.45" fill="#2ee02a" stroke="#0c500c" stroke-width="0.85"/>
<text x="346.3" y="186.8" font-size="11.8" text-anchor="start" font-weight="bold" fill="#000" >D</text>
<line x1="364.3" y1="190.4" x2="364.3" y2="289.8" stroke="#333" stroke-width="1"/>
<line x1="363.8" y1="289.3" x2="512.2" y2="289.3" stroke="#333" stroke-width="1"/>
<line x1="361.90000000000003" y1="289.3" x2="364.3" y2="289.3" stroke="#333" stroke-width="1"/>
<text x="360.40000000000003" y="291.90000000000003" font-size="7.4" text-anchor="end" font-weight="normal" fill="#111" >0</text>
<line x1="361.90000000000003" y1="264.7" x2="364.3" y2="264.7" stroke="#333" stroke-width="1"/>
<text x="360.40000000000003" y="267.3" font-size="7.4" text-anchor="end" font-weight="normal" fill="#111" >1</text>
<line x1="361.90000000000003" y1="240.10000000000002" x2="364.3" y2="240.10000000000002" stroke="#333" stroke-width="1"/>
<text x="360.40000000000003" y="242.70000000000002" font-size="7.4" text-anchor="end" font-weight="normal" fill="#111" >2</text>
<line x1="361.90000000000003" y1="215.5" x2="364.3" y2="215.5" stroke="#333" stroke-width="1"/>
<text x="360.40000000000003" y="218.1" font-size="7.4" text-anchor="end" font-weight="normal" fill="#111" >3</text>
<line x1="361.90000000000003" y1="190.9" x2="364.3" y2="190.9" stroke="#333" stroke-width="1"/>
<text x="360.40000000000003" y="193.5" font-size="7.4" text-anchor="end" font-weight="normal" fill="#111" >4</text>
<line x1="364.3" y1="289.3" x2="364.3" y2="291.7" stroke="#333" stroke-width="1"/>
<text x="364.3" y="300.2" font-size="7.6" text-anchor="middle" font-weight="normal" fill="#111" >0</text>
<line x1="401.2" y1="289.3" x2="401.2" y2="291.7" stroke="#333" stroke-width="1"/>
<text x="401.2" y="300.2" font-size="7.6" text-anchor="middle" font-weight="normal" fill="#111" >25</text>
<line x1="438.1" y1="289.3" x2="438.1" y2="291.7" stroke="#333" stroke-width="1"/>
<text x="438.1" y="300.2" font-size="7.6" text-anchor="middle" font-weight="normal" fill="#111" >50</text>
<line x1="475.0" y1="289.3" x2="475.0" y2="291.7" stroke="#333" stroke-width="1"/>
<text x="475.0" y="300.2" font-size="7.6" text-anchor="middle" font-weight="normal" fill="#111" >75</text>
<line x1="511.9" y1="289.3" x2="511.9" y2="291.7" stroke="#333" stroke-width="1"/>
<text x="511.9" y="300.2" font-size="7.6" text-anchor="middle" font-weight="normal" fill="#111" >100</text>
<text x="412.7" y="310.9" font-size="8.2" fill="#111" textLength="49.4" lengthAdjust="spacingAndGlyphs">% T Cell CD4</text>
<text transform="translate(351.2,246.0) rotate(-90)" font-size="8.0" text-anchor="middle" fill="#111" textLength="49" lengthAdjust="spacingAndGlyphs">%T Cell V&#948;2+</text>
<text x="370.0" y="197.0" font-size="7.8" fill="#111" textLength="27.8" lengthAdjust="spacingAndGlyphs">r= -0.01</text>
<text x="370.0" y="204.9" font-size="7.8" fill="#111" textLength="26.5" lengthAdjust="spacingAndGlyphs">P=0.93</text>
<circle cx="397.6" cy="219.9" r="2.45" fill="#030303" stroke="#000000" stroke-width="0.85"/>
<circle cx="381.5" cy="277.4" r="2.45" fill="#030303" stroke="#000000" stroke-width="0.85"/>
<circle cx="379.5" cy="280.0" r="2.45" fill="#030303" stroke="#000000" stroke-width="0.85"/>
<circle cx="376.2" cy="281.4" r="2.45" fill="#030303" stroke="#000000" stroke-width="0.85"/>
<circle cx="386.5" cy="288.4" r="2.45" fill="#030303" stroke="#000000" stroke-width="0.85"/>
<circle cx="393.4" cy="285.1" r="2.45" fill="#030303" stroke="#000000" stroke-width="0.85"/>
<circle cx="397.1" cy="285.3" r="2.45" fill="#030303" stroke="#000000" stroke-width="0.85"/>
<circle cx="375.0" cy="218.6" r="2.45" fill="#f28a14" stroke="#4a2c08" stroke-width="0.85"/>
<circle cx="380.6" cy="241.0" r="2.45" fill="#f28a14" stroke="#4a2c08" stroke-width="0.85"/>
<circle cx="367.2" cy="278.0" r="2.45" fill="#f28a14" stroke="#4a2c08" stroke-width="0.85"/>
<circle cx="376.2" cy="260.8" r="2.45" fill="#f0b4e6" stroke="#5a305e" stroke-width="0.85"/>
<circle cx="372.5" cy="262.8" r="2.45" fill="#f0b4e6" stroke="#5a305e" stroke-width="0.85"/>
<circle cx="366.7" cy="269.7" r="2.45" fill="#f0b4e6" stroke="#5a305e" stroke-width="0.85"/>
<circle cx="369.3" cy="270.8" r="2.45" fill="#f0b4e6" stroke="#5a305e" stroke-width="0.85"/>
<circle cx="392.4" cy="272.7" r="2.45" fill="#f0b4e6" stroke="#5a305e" stroke-width="0.85"/>
<circle cx="375.5" cy="277.4" r="2.45" fill="#f0b4e6" stroke="#5a305e" stroke-width="0.85"/>
<circle cx="372.5" cy="279.8" r="2.45" fill="#f0b4e6" stroke="#5a305e" stroke-width="0.85"/>
<circle cx="367.2" cy="282.0" r="2.45" fill="#f0b4e6" stroke="#5a305e" stroke-width="0.85"/>
<circle cx="373.5" cy="284.7" r="2.45" fill="#f0b4e6" stroke="#5a305e" stroke-width="0.85"/>
<circle cx="389.2" cy="284.7" r="2.45" fill="#f0b4e6" stroke="#5a305e" stroke-width="0.85"/>
<circle cx="408.0" cy="256.3" r="2.45" fill="#1010d0" stroke="#00003c" stroke-width="0.85"/>
<circle cx="427.8" cy="262.9" r="2.45" fill="#1010d0" stroke="#00003c" stroke-width="0.85"/>
<circle cx="446.1" cy="260.8" r="2.45" fill="#1010d0" stroke="#00003c" stroke-width="0.85"/>
<circle cx="469.8" cy="243.2" r="2.45" fill="#1010d0" stroke="#00003c" stroke-width="0.85"/>
<circle cx="474.5" cy="239.9" r="2.45" fill="#1010d0" stroke="#00003c" stroke-width="0.85"/>
<circle cx="401.9" cy="269.1" r="2.45" fill="#1010d0" stroke="#00003c" stroke-width="0.85"/>
<circle cx="408.5" cy="270.2" r="2.45" fill="#1010d0" stroke="#00003c" stroke-width="0.85"/>
<circle cx="411.1" cy="281.0" r="2.45" fill="#1010d0" stroke="#00003c" stroke-width="0.85"/>
<circle cx="423.5" cy="270.6" r="2.45" fill="#1010d0" stroke="#00003c" stroke-width="0.85"/>
<circle cx="414.7" cy="274.2" r="2.45" fill="#1010d0" stroke="#00003c" stroke-width="0.85"/>
<circle cx="435.9" cy="275.3" r="2.45" fill="#1010d0" stroke="#00003c" stroke-width="0.85"/>
<circle cx="415.5" cy="278.3" r="2.45" fill="#1010d0" stroke="#00003c" stroke-width="0.85"/>
<circle cx="417.8" cy="281.0" r="2.45" fill="#1010d0" stroke="#00003c" stroke-width="0.85"/>
<circle cx="407.0" cy="288.1" r="2.45" fill="#1010d0" stroke="#00003c" stroke-width="0.85"/>
<circle cx="412.1" cy="288.4" r="2.45" fill="#1010d0" stroke="#00003c" stroke-width="0.85"/>
<circle cx="430.6" cy="286.5" r="2.45" fill="#1010d0" stroke="#00003c" stroke-width="0.85"/>
<circle cx="434.8" cy="288.1" r="2.45" fill="#1010d0" stroke="#00003c" stroke-width="0.85"/>
<circle cx="446.1" cy="260.6" r="2.45" fill="#1010d0" stroke="#00003c" stroke-width="0.85"/>
<circle cx="396.7" cy="221.0" r="2.45" fill="#e0081a" stroke="#4a0006" stroke-width="0.85"/>
<circle cx="432.5" cy="251.0" r="2.45" fill="#e0081a" stroke="#4a0006" stroke-width="0.85"/>
<circle cx="432.5" cy="258.2" r="2.45" fill="#e0081a" stroke="#4a0006" stroke-width="0.85"/>
<circle cx="376.5" cy="271.0" r="2.45" fill="#e0081a" stroke="#4a0006" stroke-width="0.85"/>
<circle cx="402.4" cy="285.1" r="2.45" fill="#e0081a" stroke="#4a0006" stroke-width="0.85"/>
<circle cx="406.5" cy="279.9" r="2.45" fill="#e0081a" stroke="#4a0006" stroke-width="0.85"/>
<circle cx="415.5" cy="271.1" r="2.45" fill="#e0081a" stroke="#4a0006" stroke-width="0.85"/>
<circle cx="422.9" cy="276.0" r="2.45" fill="#e0081a" stroke="#4a0006" stroke-width="0.85"/>
<circle cx="402.3" cy="284.5" r="2.45" fill="#e0081a" stroke="#4a0006" stroke-width="0.85"/>
<circle cx="406.4" cy="241.0" r="2.45" fill="#eef024" stroke="#3c3c08" stroke-width="0.85"/>
<circle cx="431.7" cy="238.1" r="2.45" fill="#eef024" stroke="#3c3c08" stroke-width="0.85"/>
<circle cx="374.9" cy="255.5" r="2.45" fill="#eef024" stroke="#3c3c08" stroke-width="0.85"/>
<circle cx="388.1" cy="275.0" r="2.45" fill="#eef024" stroke="#3c3c08" stroke-width="0.85"/>
<circle cx="382.2" cy="283.0" r="2.45" fill="#eef024" stroke="#3c3c08" stroke-width="0.85"/>
<circle cx="375.9" cy="287.3" r="2.45" fill="#eef024" stroke="#3c3c08" stroke-width="0.85"/>
<circle cx="400.0" cy="277.6" r="2.45" fill="#eef024" stroke="#3c3c08" stroke-width="0.85"/>
<circle cx="403.0" cy="279.4" r="2.45" fill="#eef024" stroke="#3c3c08" stroke-width="0.85"/>
<circle cx="414.7" cy="286.5" r="2.45" fill="#eef024" stroke="#3c3c08" stroke-width="0.85"/>
<circle cx="419.3" cy="286.9" r="2.45" fill="#eef024" stroke="#3c3c08" stroke-width="0.85"/>
<circle cx="422.4" cy="272.6" r="2.45" fill="#2ee02a" stroke="#0c500c" stroke-width="0.85"/>
<circle cx="422.4" cy="280.7" r="2.45" fill="#2ee02a" stroke="#0c500c" stroke-width="0.85"/>
<circle cx="409.3" cy="284.5" r="2.45" fill="#2ee02a" stroke="#0c500c" stroke-width="0.85"/>
<circle cx="416.7" cy="285.6" r="2.45" fill="#2ee02a" stroke="#0c500c" stroke-width="0.85"/>
<circle cx="426.6" cy="287.2" r="2.45" fill="#2ee02a" stroke="#0c500c" stroke-width="0.85"/>
<circle cx="439.4" cy="286.5" r="2.45" fill="#2ee02a" stroke="#0c500c" stroke-width="0.85"/>
<circle cx="451.6" cy="287.1" r="2.45" fill="#2ee02a" stroke="#0c500c" stroke-width="0.85"/>
<circle cx="481.4" cy="279.3" r="2.45" fill="#2ee02a" stroke="#0c500c" stroke-width="0.85"/>
<text x="0.3" y="326.8" font-size="11.8" text-anchor="start" font-weight="bold" fill="#000" >E</text>
<line x1="23.6" y1="330.5" x2="23.6" y2="429.5" stroke="#333" stroke-width="1"/>
<line x1="23.1" y1="429.0" x2="172.4" y2="429.0" stroke="#333" stroke-width="1"/>
<line x1="21.200000000000003" y1="429.0" x2="23.6" y2="429.0" stroke="#333" stroke-width="1"/>
<text x="20.0" y="431.6" font-size="7.4" text-anchor="end" font-weight="normal" fill="#111" >0</text>
<line x1="21.200000000000003" y1="409.4" x2="23.6" y2="409.4" stroke="#333" stroke-width="1"/>
<text x="20.0" y="412.0" font-size="7.4" text-anchor="end" font-weight="normal" fill="#111" >0.5</text>
<line x1="21.200000000000003" y1="389.8" x2="23.6" y2="389.8" stroke="#333" stroke-width="1"/>
<text x="20.0" y="392.40000000000003" font-size="7.4" text-anchor="end" font-weight="normal" fill="#111" >1</text>
<line x1="21.200000000000003" y1="370.2" x2="23.6" y2="370.2" stroke="#333" stroke-width="1"/>
<text x="20.0" y="372.8" font-size="7.4" text-anchor="end" font-weight="normal" fill="#111" >1.5</text>
<line x1="21.200000000000003" y1="350.6" x2="23.6" y2="350.6" stroke="#333" stroke-width="1"/>
<text x="20.0" y="353.20000000000005" font-size="7.4" text-anchor="end" font-weight="normal" fill="#111" >2</text>
<line x1="21.200000000000003" y1="331.0" x2="23.6" y2="331.0" stroke="#333" stroke-width="1"/>
<text x="20.0" y="333.6" font-size="7.4" text-anchor="end" font-weight="normal" fill="#111" >2.5</text>
<line x1="23.6" y1="429.0" x2="23.6" y2="431.4" stroke="#333" stroke-width="1"/>
<text x="23.6" y="439.7" font-size="7.6" text-anchor="middle" font-weight="normal" fill="#111" >0</text>
<line x1="73.2" y1="429.0" x2="73.2" y2="431.4" stroke="#333" stroke-width="1"/>
<text x="73.2" y="439.7" font-size="7.6" text-anchor="middle" font-weight="normal" fill="#111" >5</text>
<line x1="122.80000000000001" y1="429.0" x2="122.80000000000001" y2="431.4" stroke="#333" stroke-width="1"/>
<text x="122.80000000000001" y="439.7" font-size="7.6" text-anchor="middle" font-weight="normal" fill="#111" >10</text>
<line x1="172.4" y1="429.0" x2="172.4" y2="431.4" stroke="#333" stroke-width="1"/>
<text x="172.4" y="439.7" font-size="7.6" text-anchor="middle" font-weight="normal" fill="#111" >15</text>
<text x="74.4" y="448.0" font-size="8.2" fill="#111" textLength="49.4" lengthAdjust="spacingAndGlyphs">% LN E. coli+</text>
<text transform="translate(6.9,377.7) rotate(-90)" font-size="8.0" text-anchor="middle" fill="#111" textLength="48.5" lengthAdjust="spacingAndGlyphs">%T Cell V&#948;1+</text>
<text x="26.7" y="332.2" font-size="7.8" fill="#111" textLength="26.0" lengthAdjust="spacingAndGlyphs">r= 0.46</text>
<text x="26.7" y="339.8" font-size="7.8" fill="#111" textLength="31.3" lengthAdjust="spacingAndGlyphs">P=0.022</text>
<circle cx="55.0" cy="350.4" r="2.45" fill="#1010d0" stroke="#00003c" stroke-width="0.85"/>
<circle cx="37.8" cy="369.8" r="2.45" fill="#1010d0" stroke="#00003c" stroke-width="0.85"/>
<circle cx="24.9" cy="384.9" r="2.45" fill="#1010d0" stroke="#00003c" stroke-width="0.85"/>
<circle cx="118.5" cy="377.3" r="2.45" fill="#1010d0" stroke="#00003c" stroke-width="0.85"/>
<circle cx="147.4" cy="381.4" r="2.45" fill="#1010d0" stroke="#00003c" stroke-width="0.85"/>
<circle cx="81.5" cy="389.1" r="2.45" fill="#1010d0" stroke="#00003c" stroke-width="0.85"/>
<circle cx="66.7" cy="391.2" r="2.45" fill="#1010d0" stroke="#00003c" stroke-width="0.85"/>
<rect x="22.9" y="393.5" width="4.8" height="4.8" fill="#1010d0" stroke="#00003c" stroke-width="0.85"/>
<circle cx="38.2" cy="402.2" r="2.45" fill="#1010d0" stroke="#00003c" stroke-width="0.85"/>
<circle cx="57.4" cy="410.1" r="2.45" fill="#1010d0" stroke="#00003c" stroke-width="0.85"/>
<circle cx="48.8" cy="414.5" r="2.45" fill="#1010d0" stroke="#00003c" stroke-width="0.85"/>
<circle cx="30.2" cy="415.4" r="2.45" fill="#1010d0" stroke="#00003c" stroke-width="0.85"/>
<circle cx="37.3" cy="346.9" r="2.45" fill="#2ee02a" stroke="#0c500c" stroke-width="0.85"/>
<circle cx="74.6" cy="378.7" r="2.45" fill="#2ee02a" stroke="#0c500c" stroke-width="0.85"/>
<circle cx="54.5" cy="385.3" r="2.45" fill="#2ee02a" stroke="#0c500c" stroke-width="0.85"/>
<circle cx="28.2" cy="392.0" r="2.45" fill="#2ee02a" stroke="#0c500c" stroke-width="0.85"/>
<circle cx="45.7" cy="395.5" r="2.45" fill="#2ee02a" stroke="#0c500c" stroke-width="0.85"/>
<rect x="38.4" y="394.9" width="4.8" height="4.8" fill="#2ee02a" stroke="#0c500c" stroke-width="0.85"/>
<circle cx="39.9" cy="398.8" r="2.45" fill="#2ee02a" stroke="#0c500c" stroke-width="0.85"/>
<circle cx="32.0" cy="402.2" r="2.45" fill="#2ee02a" stroke="#0c500c" stroke-width="0.85"/>
<circle cx="32.2" cy="414.1" r="2.45" fill="#2ee02a" stroke="#0c500c" stroke-width="0.85"/>
<circle cx="36.2" cy="418.0" r="2.45" fill="#2ee02a" stroke="#0c500c" stroke-width="0.85"/>
<circle cx="25.9" cy="418.0" r="2.45" fill="#2ee02a" stroke="#0c500c" stroke-width="0.85"/>
<circle cx="27.6" cy="420.0" r="2.45" fill="#2ee02a" stroke="#0c500c" stroke-width="0.85"/>
<rect x="25.8" y="419.0" width="4.8" height="4.8" fill="#2ee02a" stroke="#0c500c" stroke-width="0.85"/>
<text x="171.2" y="326.8" font-size="11.8" text-anchor="start" font-weight="bold" fill="#000" >F</text>
<line x1="193.4" y1="330.8" x2="193.4" y2="429.8" stroke="#333" stroke-width="1"/>
<line x1="192.9" y1="429.3" x2="342.6" y2="429.3" stroke="#333" stroke-width="1"/>
<line x1="191.0" y1="429.3" x2="193.4" y2="429.3" stroke="#333" stroke-width="1"/>
<text x="189.6" y="431.90000000000003" font-size="7.4" text-anchor="end" font-weight="normal" fill="#111" >0</text>
<line x1="191.0" y1="404.8" x2="193.4" y2="404.8" stroke="#333" stroke-width="1"/>
<text x="189.6" y="407.40000000000003" font-size="7.4" text-anchor="end" font-weight="normal" fill="#111" >0.5</text>
<line x1="191.0" y1="380.3" x2="193.4" y2="380.3" stroke="#333" stroke-width="1"/>
<text x="189.6" y="382.90000000000003" font-size="7.4" text-anchor="end" font-weight="normal" fill="#111" >1</text>
<line x1="191.0" y1="355.8" x2="193.4" y2="355.8" stroke="#333" stroke-width="1"/>
<text x="189.6" y="358.40000000000003" font-size="7.4" text-anchor="end" font-weight="normal" fill="#111" >1.5</text>
<line x1="191.0" y1="331.3" x2="193.4" y2="331.3" stroke="#333" stroke-width="1"/>
<text x="189.6" y="333.90000000000003" font-size="7.4" text-anchor="end" font-weight="normal" fill="#111" >2</text>
<line x1="193.4" y1="429.3" x2="193.4" y2="431.7" stroke="#333" stroke-width="1"/>
<text x="193.4" y="440.0" font-size="7.6" text-anchor="middle" font-weight="normal" fill="#111" >0</text>
<line x1="243.10000000000002" y1="429.3" x2="243.10000000000002" y2="431.7" stroke="#333" stroke-width="1"/>
<text x="243.10000000000002" y="440.0" font-size="7.6" text-anchor="middle" font-weight="normal" fill="#111" >5</text>
<line x1="292.8" y1="429.3" x2="292.8" y2="431.7" stroke="#333" stroke-width="1"/>
<text x="292.8" y="440.0" font-size="7.6" text-anchor="middle" font-weight="normal" fill="#111" >10</text>
<line x1="342.5" y1="429.3" x2="342.5" y2="431.7" stroke="#333" stroke-width="1"/>
<text x="342.5" y="440.0" font-size="7.6" text-anchor="middle" font-weight="normal" fill="#111" >15</text>
<text x="243.0" y="448.3" font-size="8.2" fill="#111" textLength="50.6" lengthAdjust="spacingAndGlyphs">% LN E. coli+</text>
<text transform="translate(177.5,380.2) rotate(-90)" font-size="8.0" text-anchor="middle" fill="#111" textLength="48.5" lengthAdjust="spacingAndGlyphs">%T Cell V&#948;2+</text>
<text x="195.7" y="337.4" font-size="7.8" fill="#111" textLength="26.0" lengthAdjust="spacingAndGlyphs">r= 0.19</text>
<text x="195.7" y="345.3" font-size="7.8" fill="#111" textLength="26.8" lengthAdjust="spacingAndGlyphs">P=0.38</text>
<circle cx="317.7" cy="334.2" r="2.45" fill="#1010d0" stroke="#00003c" stroke-width="0.85"/>
<circle cx="208.2" cy="370.3" r="2.45" fill="#1010d0" stroke="#00003c" stroke-width="0.85"/>
<circle cx="237.2" cy="386.5" r="2.45" fill="#1010d0" stroke="#00003c" stroke-width="0.85"/>
<circle cx="288.8" cy="389.0" r="2.45" fill="#1010d0" stroke="#00003c" stroke-width="0.85"/>
<circle cx="218.4" cy="398.9" r="2.45" fill="#1010d0" stroke="#00003c" stroke-width="0.85"/>
<rect x="197.5" y="401.0" width="4.8" height="4.8" fill="#1010d0" stroke="#00003c" stroke-width="0.85"/>
<circle cx="224.7" cy="406.0" r="2.45" fill="#1010d0" stroke="#00003c" stroke-width="0.85"/>
<circle cx="207.8" cy="411.0" r="2.45" fill="#1010d0" stroke="#00003c" stroke-width="0.85"/>
<circle cx="251.6" cy="412.2" r="2.45" fill="#1010d0" stroke="#00003c" stroke-width="0.85"/>
<rect x="192.9" y="413.9" width="4.8" height="4.8" fill="#1010d0" stroke="#00003c" stroke-width="0.85"/>
<circle cx="228.0" cy="425.4" r="2.45" fill="#1010d0" stroke="#00003c" stroke-width="0.85"/>
<circle cx="235.5" cy="389.5" r="2.45" fill="#2ee02a" stroke="#0c500c" stroke-width="0.85"/>
<circle cx="197.9" cy="392.3" r="2.45" fill="#2ee02a" stroke="#0c500c" stroke-width="0.85"/>
<circle cx="201.6" cy="408.3" r="2.45" fill="#2ee02a" stroke="#0c500c" stroke-width="0.85"/>
<circle cx="206.5" cy="414.6" r="2.45" fill="#2ee02a" stroke="#0c500c" stroke-width="0.85"/>
<circle cx="209.0" cy="418.0" r="2.45" fill="#2ee02a" stroke="#0c500c" stroke-width="0.85"/>
<circle cx="245.9" cy="419.9" r="2.45" fill="#2ee02a" stroke="#0c500c" stroke-width="0.85"/>
<rect x="195.0" y="419.2" width="4.8" height="4.8" fill="#2ee02a" stroke="#0c500c" stroke-width="0.85"/>
<circle cx="201.6" cy="421.3" r="2.45" fill="#2ee02a" stroke="#0c500c" stroke-width="0.85"/>
<circle cx="205.7" cy="423.2" r="2.45" fill="#2ee02a" stroke="#0c500c" stroke-width="0.85"/>
<rect x="213.2" y="420.8" width="4.8" height="4.8" fill="#2ee02a" stroke="#0c500c" stroke-width="0.85"/>
<circle cx="210.2" cy="426.6" r="2.45" fill="#2ee02a" stroke="#0c500c" stroke-width="0.85"/>
<circle cx="224.4" cy="426.6" r="2.45" fill="#2ee02a" stroke="#0c500c" stroke-width="0.85"/>
</svg>
</body></html>
